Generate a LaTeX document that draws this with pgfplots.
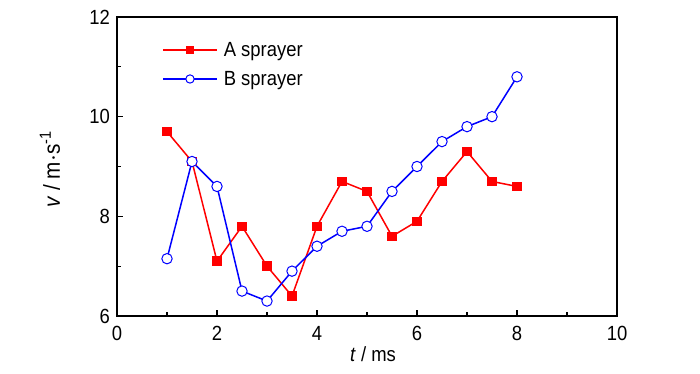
\documentclass[border=0pt]{standalone}
\usepackage{pgfplots}
\pgfplotsset{compat=1.18}
\usepackage{fontspec}
\setmainfont{Liberation Sans}[FakeStretch=0.9]
\begin{document}
\begin{tikzpicture}
\useasboundingbox (0pt,0pt) rectangle (700pt,374pt);
\begin{axis}[
  at={(117pt,58pt)}, anchor=south west,
  scale only axis, width=500pt, height=299pt,
  xmin=0, xmax=10, ymin=6, ymax=12,
  xtick={0,2,...,10}, ytick={6,8,...,12},
  minor x tick num=1, minor y tick num=1,
  tick align=inside,
  xtick pos=bottom, ytick pos=left,
  major tick length=6pt, minor tick length=3.5pt,
  axis line style={line width=1.6pt},
  every tick/.style={black, line width=1.3pt},
  /pgf/number format/assume math mode=true,
  tick label style={font=\fontsize{20.5}{20.5}\selectfont},
  xticklabel style={anchor=north, inner sep=0pt, yshift=-10pt},
  yticklabel style={anchor=east, inner sep=0pt, xshift=-7pt},
  xlabel={\fontsize{20.5}{20.5}\selectfont\textit{t} / ms},
  ylabel={\fontsize{23}{23}\selectfont\textit{v} / m$\cdot$s\textsuperscript{-1}},
  xlabel style={at={(axis description cs:0.512,0)}, anchor=base, inner sep=0pt, yshift=-46pt},
  ylabel style={at={(axis description cs:0,0.49)}, anchor=center, inner sep=0pt, yshift=67pt},
  legend style={draw=none, fill=none, at={(axis description cs:0.09,0.9235)}, anchor=north west,
    inner sep=0pt, font=\fontsize{20.5}{22}\selectfont, row sep=9.5pt,
    /tikz/every odd column/.append style={column sep=4pt}},
  legend cell align=left,
  legend image code/.code={
    \draw[#1, line width=1.6pt, mark repeat=2, mark phase=2, every mark/.append style={scale=0.8}] plot coordinates {(0pt,0pt) (27pt,0pt) (54pt,0pt)};},
]
\addplot[red, line width=1.5pt, mark=square*, mark size=4.2pt, mark options={solid, fill=red, line width=1pt}]
coordinates {(1,9.7) (1.5,9.1) (2,7.1) (2.5,7.8) (3,7.0) (3.5,6.4) (4,7.8) (4.5,8.7) (5,8.5) (5.5,7.6) (6,7.9) (6.5,8.7) (7,9.3) (7.5,8.7) (8,8.6)};
\addlegendentry{A sprayer}
\addplot[blue, line width=1.5pt, mark=*, mark size=5.2pt, mark options={solid, fill=white, line width=1pt}]
coordinates {(1,7.15) (1.5,9.1) (2,8.6) (2.5,6.5) (3,6.3) (3.5,6.9) (4,7.4) (4.5,7.7) (5,7.8) (5.5,8.5) (6,9.0) (6.5,9.5) (7,9.8) (7.5,10.0) (8,10.8)};
\addlegendentry{B sprayer}
\end{axis}
\end{tikzpicture}
\end{document}
